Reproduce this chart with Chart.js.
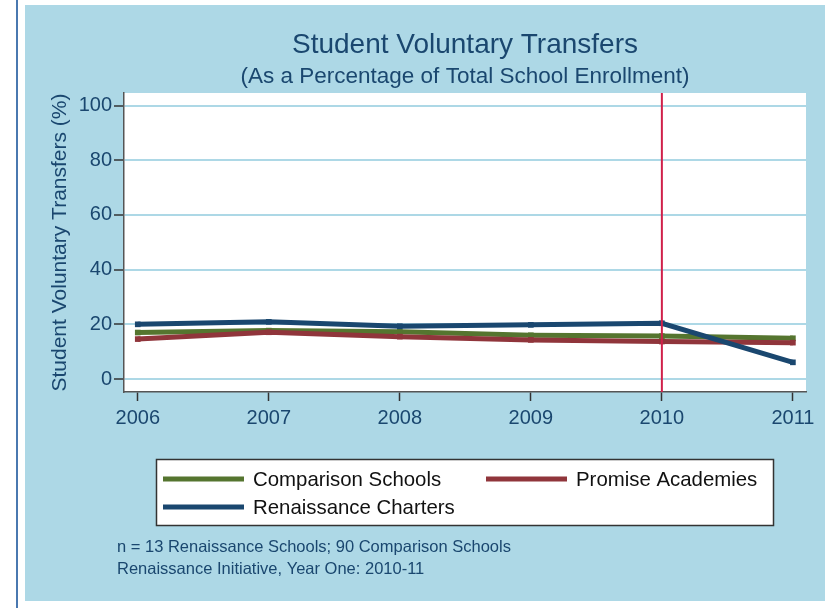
<!DOCTYPE html>
<html>
<head>
<meta charset="utf-8">
<title>Student Voluntary Transfers</title>
<script src="https://cdn.jsdelivr.net/npm/chart.js@4"></script>
<style>
  body { margin: 0; background: #fff; }
  canvas { display: block; }
</style>
</head>
<body>
<canvas id="transfers" width="832" height="608"></canvas>
<script>
const years = [2006, 2007, 2008, 2009, 2010, 2011];
const comparison = [17.0, 17.7, 17.3, 16.0, 15.7, 14.9];
const promise = [14.6, 17.1, 15.5, 14.3, 13.7, 13.3];
const renaissance = [20.0, 20.9, 19.3, 19.8, 20.4, 6.1];
const yTicks = [0, 20, 40, 60, 80, 100];
const startYear = 2010;

const FONT = "'Liberation Sans', Arial, sans-serif";
const NAVY = "#1a476f";
const MAROON = "#90353b";
const GREEN = "#55752f";
const BG = "#add8e6";

function points(values) {
    return years.map((y, i) => ({ x: y, y: values[i] }));
}

function series(label, values, color, order) {
    return {
        label: label,
        data: points(values),
        borderColor: color,
        backgroundColor: color,
        borderWidth: 5,
        pointStyle: "rect",
        pointRadius: 4,
        pointBorderWidth: 0,
        tension: 0,
        order: order,
    };
}

// background, plot frame, red marker line, titles, legend and notes
const decor = {
    id: "decor",
    beforeDraw(chart) {
        const ctx = chart.ctx;
        const a = chart.chartArea;
        ctx.save();
        ctx.fillStyle = "#fff";
        ctx.fillRect(0, 0, chart.width, chart.height);
        ctx.fillStyle = "#4a78b0";
        ctx.fillRect(16, 0, 2, chart.height);
        ctx.fillStyle = BG;
        ctx.fillRect(25, 5, 800, 596);
        ctx.fillStyle = "#fff";
        ctx.fillRect(a.left, a.top, a.right - a.left, a.bottom - a.top);
        ctx.restore();
    },
    afterDatasetsDraw(chart) {
        const ctx = chart.ctx;
        const a = chart.chartArea;
        const x = chart.scales.x.getPixelForValue(startYear);
        ctx.save();
        ctx.strokeStyle = "#d0204a";
        ctx.lineWidth = 2;
        ctx.beginPath();
        ctx.moveTo(x, a.top);
        ctx.lineTo(x, a.bottom);
        ctx.stroke();
        ctx.restore();
    },
    afterDraw(chart) {
        const ctx = chart.ctx;
        const a = chart.chartArea;
        const cx = (a.left + a.right) / 2;
        ctx.save();
        ctx.fillStyle = NAVY;
        ctx.textAlign = "center";
        ctx.textBaseline = "middle";
        ctx.font = "28px " + FONT;
        ctx.fillText("Student Voluntary Transfers", cx, 45);
        ctx.font = "22.5px " + FONT;
        ctx.fillText("(As a Percentage of Total School Enrollment)", cx, 77);

        // legend
        ctx.fillStyle = "#fff";
        ctx.fillRect(156.5, 459.5, 617, 66);
        ctx.strokeStyle = "#333";
        ctx.lineWidth = 1.5;
        ctx.strokeRect(156.5, 459.5, 617, 66);
        const ds = chart.data.datasets;
        const slots = [[163, 479], [486, 479], [163, 507]];
        ctx.font = "20.4px " + FONT;
        ctx.textAlign = "left";
        ds.forEach((d, i) => {
            const [lx, ly] = slots[i];
            ctx.strokeStyle = d.borderColor;
            ctx.lineWidth = 5;
            ctx.beginPath();
            ctx.moveTo(lx, ly);
            ctx.lineTo(lx + 81, ly);
            ctx.stroke();
            ctx.fillStyle = "#111";
            ctx.fillText(d.label, lx + 90, ly + 1);
        });

        // notes
        ctx.fillStyle = NAVY;
        ctx.font = "16.5px " + FONT;
        ctx.fillText("n = 13 Renaissance Schools; 90 Comparison Schools", 117, 547);
        ctx.fillText("Renaissance Initiative, Year One: 2010-11", 117, 569);
        ctx.restore();
    },
};

new Chart(document.getElementById("transfers"), {
    type: "line",
    data: {
        datasets: [
            series("Comparison Schools", comparison, GREEN, 3),
            series("Promise Academies", promise, MAROON, 2),
            series("Renaissance Charters", renaissance, NAVY, 1),
        ],
    },
    options: {
        responsive: false,
        animation: false,
        devicePixelRatio: 1,
        layout: {
            padding: { left: 24, right: 26, top: 93, bottom: 0 },
        },
        plugins: {
            legend: { display: false },
            title: { display: false },
            tooltip: { enabled: false },
        },
        scales: {
            x: {
                type: "linear",
                min: 2005.895,
                max: 2011.1,
                afterFit: (s) => { s.height = 216; },
                afterBuildTicks: (s) => { s.ticks = years.map((v) => ({ value: v })); },
                grid: {
                    drawOnChartArea: false,
                    tickLength: 9,
                    tickColor: "#333",
                    tickWidth: 1.5,
                },
                border: { color: "#555", width: 1.5 },
                ticks: {
                    padding: 5,
                    color: NAVY,
                    font: { size: 20, family: FONT },
                    callback: (v) => String(v),
                },
            },
            y: {
                min: -4.75,
                max: 104.6,
                afterFit: (s) => { s.width = 100; },
                afterBuildTicks: (s) => { s.ticks = yTicks.map((v) => ({ value: v })); },
                grid: {
                    color: BG,
                    lineWidth: 2,
                    tickLength: 10,
                    tickColor: "#333",
                    tickWidth: 1.5,
                },
                border: { color: "#555", width: 1.5 },
                ticks: {
                    padding: 2,
                    color: NAVY,
                    font: { size: 20, family: FONT },
                },
                title: {
                    display: true,
                    text: "Student Voluntary Transfers (%)",
                    color: NAVY,
                    font: { size: 21, family: FONT },
                    padding: { top: 24, bottom: 0 },
                },
            },
        },
    },
    plugins: [decor],
});
</script>
</body>
</html>
